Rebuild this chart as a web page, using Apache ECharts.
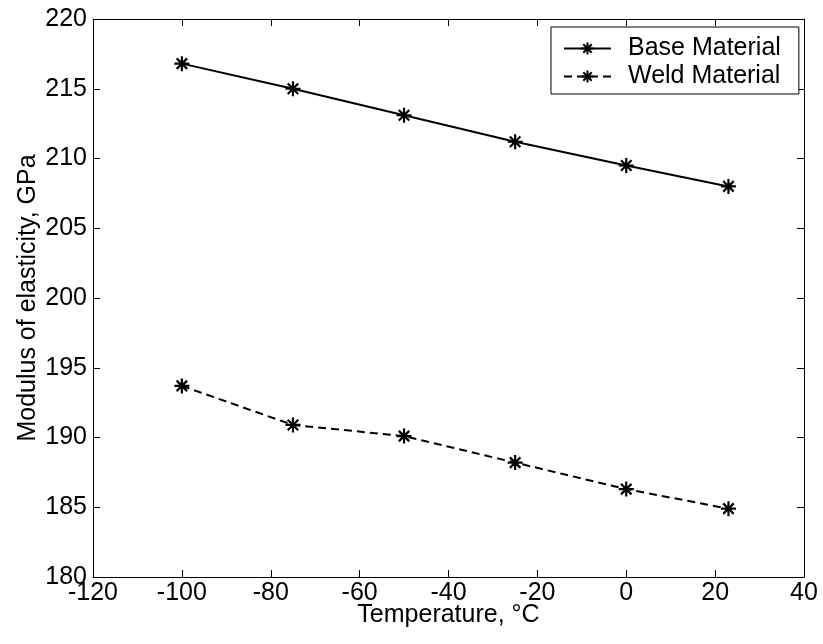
<!DOCTYPE html>
<html>
<head>
<meta charset="utf-8">
<script src="https://cdn.jsdelivr.net/npm/echarts@6/dist/echarts.min.js"></script>
<style>html,body{margin:0;padding:0;background:#fff;}#c{width:823px;height:644px;}</style>
</head>
<body>
<div id="c"></div>
<script>
const temperatures = [-100, -75, -50, -25, 0, 23];
const baseMaterial = [216.8, 215.0, 213.1, 211.2, 209.5, 208.0];
const weldMaterial = [193.7, 190.9, 190.1, 188.2, 186.3, 184.9];
const seriesNames = ['Base Material', 'Weld Material'];
const xTitle = 'Temperature, °C';
const yTitle = 'Modulus of elasticity, GPa';

const star = 'path://M5,0L5,10M0,5L10,5M1.5,1.5L8.5,8.5M1.5,8.5L8.5,1.5';
const font = 'Liberation Sans, Arial, sans-serif';
const fs = 25;

function pairs(xs, ys) { return xs.map((x, i) => [x, ys[i]]); }

function axisCommon(show) {
  return {
    axisLine: { show: true, onZero: false, lineStyle: { color: '#000', width: 1 } },
    axisTick: { show: true, inside: true, length: 7, lineStyle: { color: '#000' } },
    axisLabel: { show: show, color: '#000', fontSize: fs, fontFamily: font },
    splitLine: { show: false }
  };
}

const chart = echarts.init(document.getElementById('c'), null, { renderer: 'canvas' });
chart.setOption({
  backgroundColor: '#fff',
  animation: false,
  grid: { left: 93, right: 19, top: 19, bottom: 67, containLabel: false },
  legend: {
    orient: 'vertical',
    left: 551, top: 27,
    padding: [9, 18, 5, 12],
    itemGap: 3,
    itemWidth: 47, itemHeight: 15,
    backgroundColor: '#fff',
    borderColor: '#000', borderWidth: 1,
    textStyle: { color: '#000', fontSize: fs, fontFamily: font, padding: [0, 0, 0, 12] },
    data: seriesNames
  },
  xAxis: [
    Object.assign({ type: 'value', min: -120, max: 40, interval: 20, position: 'bottom',
      name: xTitle, nameLocation: 'middle', nameGap: 26, nameMoveOverlap: false,
      nameTextStyle: { color: '#000', fontSize: fs, fontFamily: font, verticalAlign: 'top' } }, axisCommon(true),
      { axisLabel: { show: true, color: '#000', fontSize: fs, fontFamily: font, margin: 4 } }),
    Object.assign({ type: 'value', min: -120, max: 40, interval: 20, position: 'top' }, axisCommon(false))
  ],
  yAxis: [
    Object.assign({ type: 'value', min: 180, max: 220, interval: 5, position: 'left',
      name: yTitle, nameLocation: 'middle', nameGap: 52, nameMoveOverlap: false,
      nameTextStyle: { color: '#000', fontSize: fs, fontFamily: font } }, axisCommon(true),
      { axisLabel: { show: true, color: '#000', fontSize: fs, fontFamily: font, margin: 6 } }),
    Object.assign({ type: 'value', min: 180, max: 220, interval: 5, position: 'right' }, axisCommon(false))
  ],
  series: [
    {
      name: seriesNames[0], type: 'line', xAxisIndex: 0, yAxisIndex: 0,
      data: pairs(temperatures, baseMaterial),
      symbol: star, symbolSize: 15,
      lineStyle: { color: '#000', width: 2, type: 'solid' },
      itemStyle: { color: '#000', borderColor: '#000', borderWidth: 2.2 }
    },
    {
      name: seriesNames[1], type: 'line', xAxisIndex: 0, yAxisIndex: 0,
      data: pairs(temperatures, weldMaterial),
      symbol: star, symbolSize: 15,
      lineStyle: { color: '#000', width: 2, type: [8, 5] },
      itemStyle: { color: '#000', borderColor: '#000', borderWidth: 2.2 }
    }
  ]
});
</script>
</body>
</html>
